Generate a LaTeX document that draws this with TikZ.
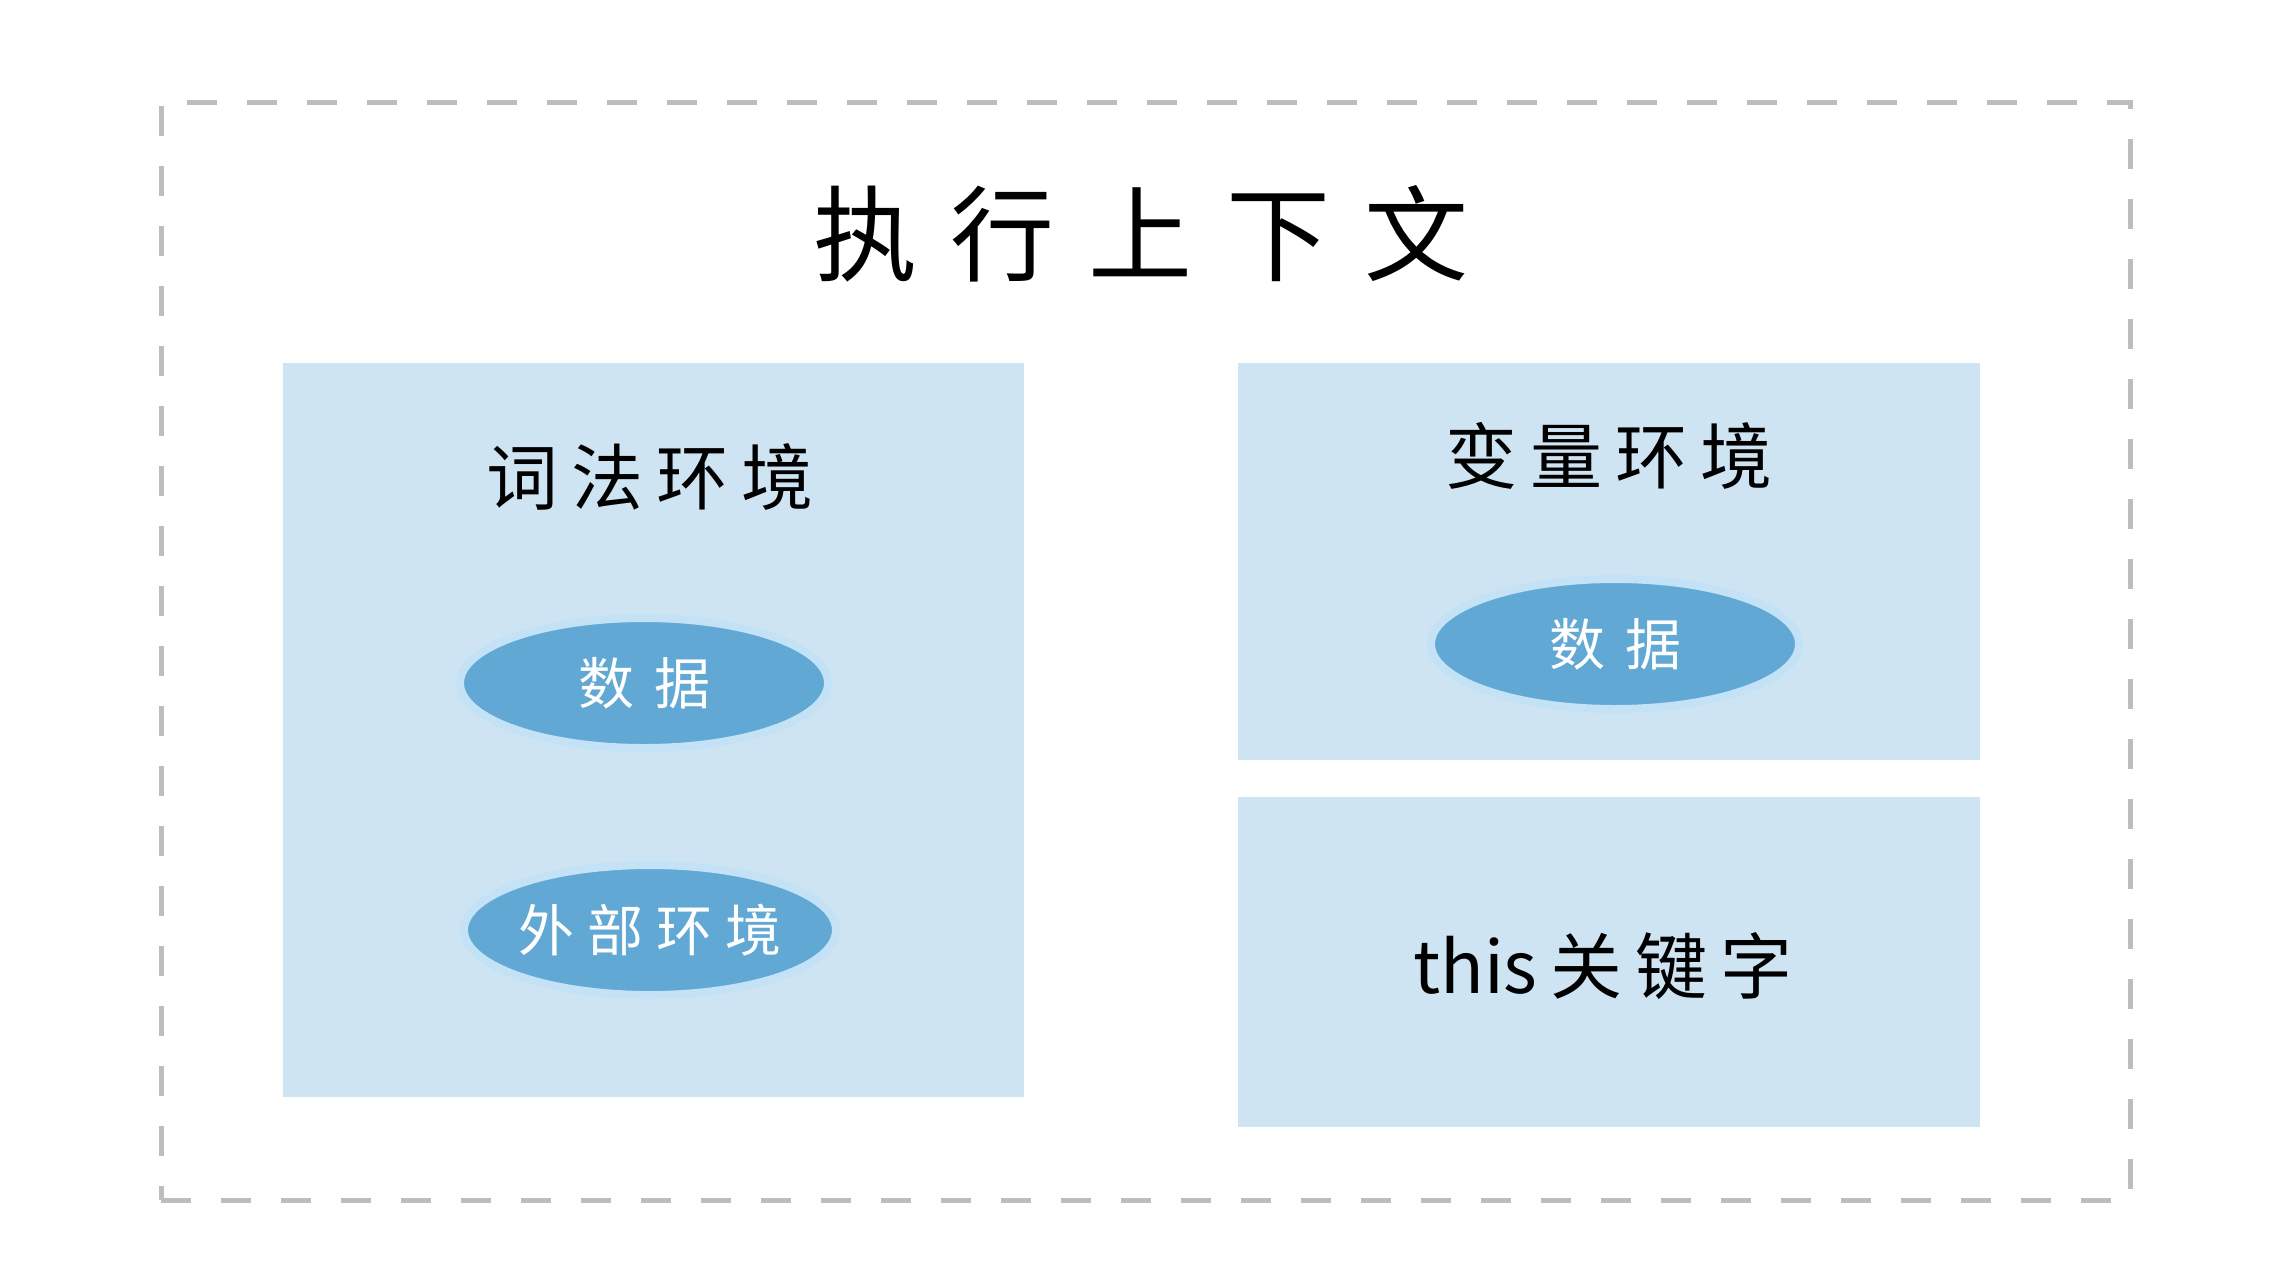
\documentclass[tikz,border=0pt]{standalone}
\usepackage{fontspec}
\newfontfamily\cjk{Noto Sans CJK SC}
\usetikzlibrary{shapes.geometric}
\definecolor{framegray}{HTML}{BDBDBD}
\definecolor{boxblue}{HTML}{CFE4F2}
\definecolor{ovalblue}{HTML}{62A8D5}
\definecolor{halo}{HTML}{C4E2F6}
\newcommand\gT{\hspace{17pt}}
\newcommand\gB{\hspace{6.5pt}}
\newcommand\gO{\hspace{10pt}}
\begin{document}
\begin{tikzpicture}[x=0.5pt,y=-0.5pt,
  every node/.style={font=\cjk, inner sep=0pt, outer sep=0pt},
  frame/.style={draw=framegray, line width=2.5pt, dash pattern=on 15pt off 15pt},
  panel/.style={fill=boxblue, rectangle},
  titletext/.style={font=\cjk\fontsize{52pt}{60pt}\selectfont, text=black},
  paneltext/.style={font=\cjk\fontsize{36pt}{42pt}\selectfont, text=black},
  oval/.style={ellipse, fill=ovalblue, draw=halo, line width=4pt,
    minimum width=184pt, minimum height=65pt,
    font=\cjk\fontsize{28pt}{32pt}\selectfont, text=white}]
\useasboundingbox (0,0) rectangle (2284,1285);
\fill[white] (0,0) rectangle (2284,1285);
\node[frame, minimum width=984.5pt, minimum height=549pt] (frame) at (1145.5,651) {};
\node[titletext] (title) at (1141,234) {执\gT 行\gT 上\gT 下\gT 文};
\node[panel, minimum width=370.5pt, minimum height=367pt] (lex) at (653.5,730) {};
\node[panel, minimum width=371pt, minimum height=198.5pt] (var) at (1609,561.5) {};
\node[panel, minimum width=371pt, minimum height=165pt] (this) at (1609,962) {};
\node[paneltext] (lextitle) at (650,477) {词\gB 法\gB 环\gB 境};
\node[paneltext] (vartitle) at (1609,456) {变\gB 量\gB 环\gB 境};
\node[paneltext] (thistitle) at (1603,966) {this\gB 关\gB 键\gB 字};
\node[oval] (lexdata) at (644,683) {数\gO 据};
\node[oval] (lexouter) at (650,930) {外\gB 部\gB 环\gB 境};
\node[oval] (vardata) at (1615,644) {数\gO 据};
\end{tikzpicture}
\end{document}
